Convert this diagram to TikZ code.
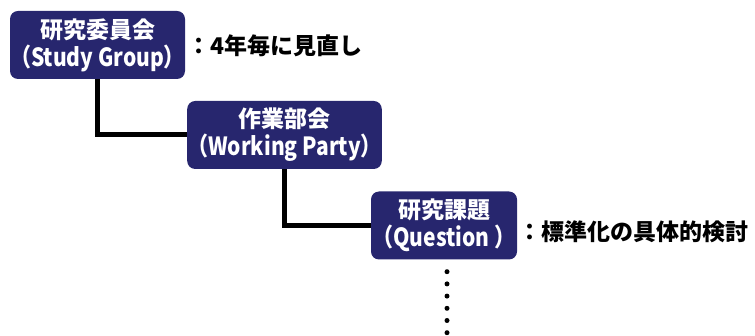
\documentclass[tikz,border=0pt]{standalone}
\usepackage{fontspec}
\setmainfont{Noto Sans CJK JP}
\newfontfamily\narrowjp{Noto Sans CJK JP}[FakeStretch=0.84]
\definecolor{kon}{RGB}{39,38,110}

\begin{document}
\begin{tikzpicture}[x=1pt,y=-1pt,
    box/.style={fill=kon,rounded corners=8pt,text=white,align=center,inner sep=0pt,
        minimum height=68pt,font=\bfseries\fontsize{23}{28}\selectfont},
    memo/.style={anchor=west,inner sep=0pt,font=\bfseries\fontsize{23}{28}\selectfont},
    tree/.style={line width=5pt}]
\useasboundingbox (0,0) rectangle (755,336);
%organisation ITU
\node[box,minimum width=175pt] (sg) at (97.5,45) {研究委員会\\{\narrowjp\bfseries\fontsize{25}{28}\selectfont （Study Group）}};
\node[box,minimum width=188pt] (wp) at (284.5,135) {作業部会\\{\narrowjp\bfseries\fontsize{25}{28}\selectfont （Working Party）}};
\node[box,minimum width=146pt] (q) at (444,225.5) {研究課題\\{\narrowjp\bfseries\fontsize{25}{28}\selectfont （Question ）}};

\node[memo] (sgNote) at (187,46) {：4年毎に見直し};
\node[memo] (qNote) at (518,232) {：標準化の具体的検討};

\draw[tree] (sg.south) |- (wp.west);
\draw[tree] (wp.south) |- (q.west);

\coordinate (qEnd) at (447,334);
\draw[line width=5pt,line cap=round,dash pattern=on 0pt off 12.2pt] ([xshift=3pt,yshift=-12pt]q.south) -- (qEnd);
\end{tikzpicture}
\end{document}
